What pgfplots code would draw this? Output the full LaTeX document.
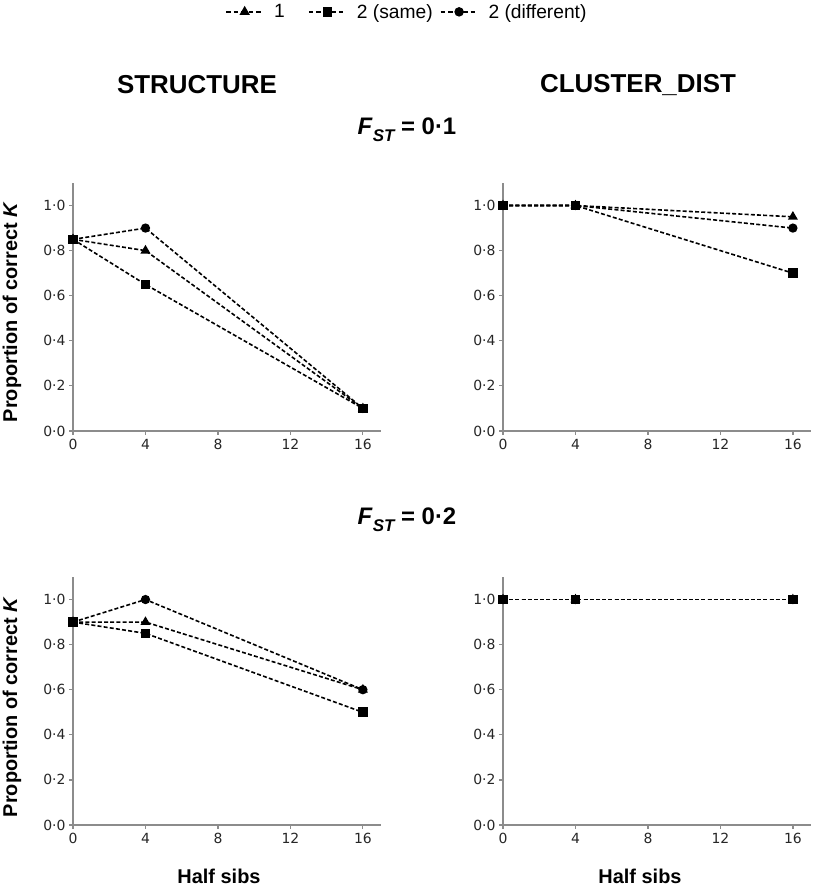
\documentclass[border=0pt]{standalone}
\usepackage{pgfplots}
\pgfplotsset{compat=1.18}
\usepackage{fontspec}
\setmainfont{Liberation Sans}
\newfontfamily\tickfont{DejaVu Sans}

\pgfplotsset{
  panel/.style={
    scale only axis, width=308bp, height=248bp,
    xmin=0, xmax=17, ymin=0, ymax=1.1,
    axis x line*=bottom, axis y line*=left,
    axis line style={draw=black!45, line width=1.5bp, -},
    xtick={0,4,8,12,16}, ytick={0,0.2,0.4,0.6,0.8,1.0},
    tick align=outside, major tick length=4bp,
    tick style={draw=black!45, line width=1.2bp},
    /pgf/number format/assume math mode=true,
    yticklabel style={/pgf/number format/.cd, fixed, fixed zerofill, precision=1, set decimal separator={·}},
    tick label style={font=\tickfont\fontsize{14}{16}\selectfont, text=black!85},
    xticklabel style={yshift=-1bp},
    clip=false,
  },
  ser/.style={black, line width=1.6bp, dash pattern=on 4bp off 2.2bp},
  tri/.style={ser, mark=triangle*, mark size=4.2bp, mark options={solid}},
  cir/.style={ser, mark=*, mark size=3.8bp, mark options={solid}},
  sq/.style={ser, mark=square*, mark size=4bp, mark options={solid}},
}

\begin{document}
\begin{tikzpicture}[x=1bp,y=1bp]
\path[use as bounding box] (0,0) rectangle (815,892);

% ---------- top left: STRUCTURE, F_ST = 0.1
\begin{axis}[panel, at={(73bp,461bp)}, anchor=south west,
  legend style={draw=none, fill=none, font=\fontsize{19.3}{21}\selectfont,
    legend columns=-1, at={(1.084,1.69)}, anchor=center,
    /tikz/every odd column/.append style={column sep=8bp},
    /tikz/every even column/.append style={column sep=5bp}},
  legend image code/.code={\draw[mark repeat=2,mark phase=2,#1, line width=1.8bp, dash pattern=on 4.5bp off 3bp] plot coordinates {(0bp,0bp) (18.5bp,0bp) (37bp,0bp)};},
]
\addlegendimage{tri}\addlegendentry{\makebox[27bp][l]{1}}
\addlegendimage{sq}\addlegendentry{2 (same)}
\addlegendimage{cir}\addlegendentry{2 (different)}
\addplot[tri, forget plot] coordinates {(0,0.85) (4,0.80) (16,0.10)};
\addplot[cir, forget plot] coordinates {(0,0.85) (4,0.90) (16,0.10)};
\addplot[sq, forget plot] coordinates {(0,0.85) (4,0.65) (16,0.10)};
\end{axis}

% ---------- top right: CLUSTER_DIST, F_ST = 0.1
\begin{axis}[panel, at={(503bp,461bp)}, anchor=south west]
\addplot[tri] coordinates {(0,1.0) (4,1.0) (16,0.95)};
\addplot[cir] coordinates {(0,1.0) (4,1.0) (16,0.90)};
\addplot[sq] coordinates {(0,1.0) (4,1.0) (16,0.70)};
\end{axis}

% ---------- bottom left: STRUCTURE, F_ST = 0.2
\begin{axis}[panel, at={(73bp,67bp)}, anchor=south west]
\addplot[tri] coordinates {(0,0.90) (4,0.90) (16,0.60)};
\addplot[cir] coordinates {(0,0.90) (4,1.00) (16,0.60)};
\addplot[sq] coordinates {(0,0.90) (4,0.85) (16,0.50)};
\end{axis}

% ---------- bottom right: CLUSTER_DIST, F_ST = 0.2
\begin{axis}[panel, at={(503bp,67bp)}, anchor=south west]
\addplot[tri] coordinates {(0,1.0) (4,1.0) (16,1.0)};
\addplot[cir] coordinates {(0,1.0) (4,1.0) (16,1.0)};
\addplot[sq] coordinates {(0,1.0) (4,1.0) (16,1.0)};
\end{axis}

% ---------- titles and labels
\node[font=\bfseries\fontsize{26}{28}\selectfont] at (197,807) {STRUCTURE};
\node[font=\bfseries\fontsize{26}{28}\selectfont] at (638,807) {CLUSTER\_DIST};
\node[font=\bfseries\fontsize{24}{26}\selectfont] at (407,762) {\textit{F}\raisebox{-0.28em}{\fontsize{17}{17}\selectfont\itshape ST} = 0·1};
\node[font=\bfseries\fontsize{24}{26}\selectfont] at (407,372) {\textit{F}\raisebox{-0.28em}{\fontsize{17}{17}\selectfont\itshape ST} = 0·2};
\node[font=\bfseries\fontsize{20}{22}\selectfont, rotate=90] at (12,580) {Proportion of correct \textit{K}};
\node[font=\bfseries\fontsize{20}{22}\selectfont, rotate=90] at (12,185) {Proportion of correct \textit{K}};
\node[font=\bfseries\fontsize{20}{22}\selectfont] at (219,16) {Half sibs};
\node[font=\bfseries\fontsize{20}{22}\selectfont] at (640,16) {Half sibs};
\end{tikzpicture}
\end{document}
